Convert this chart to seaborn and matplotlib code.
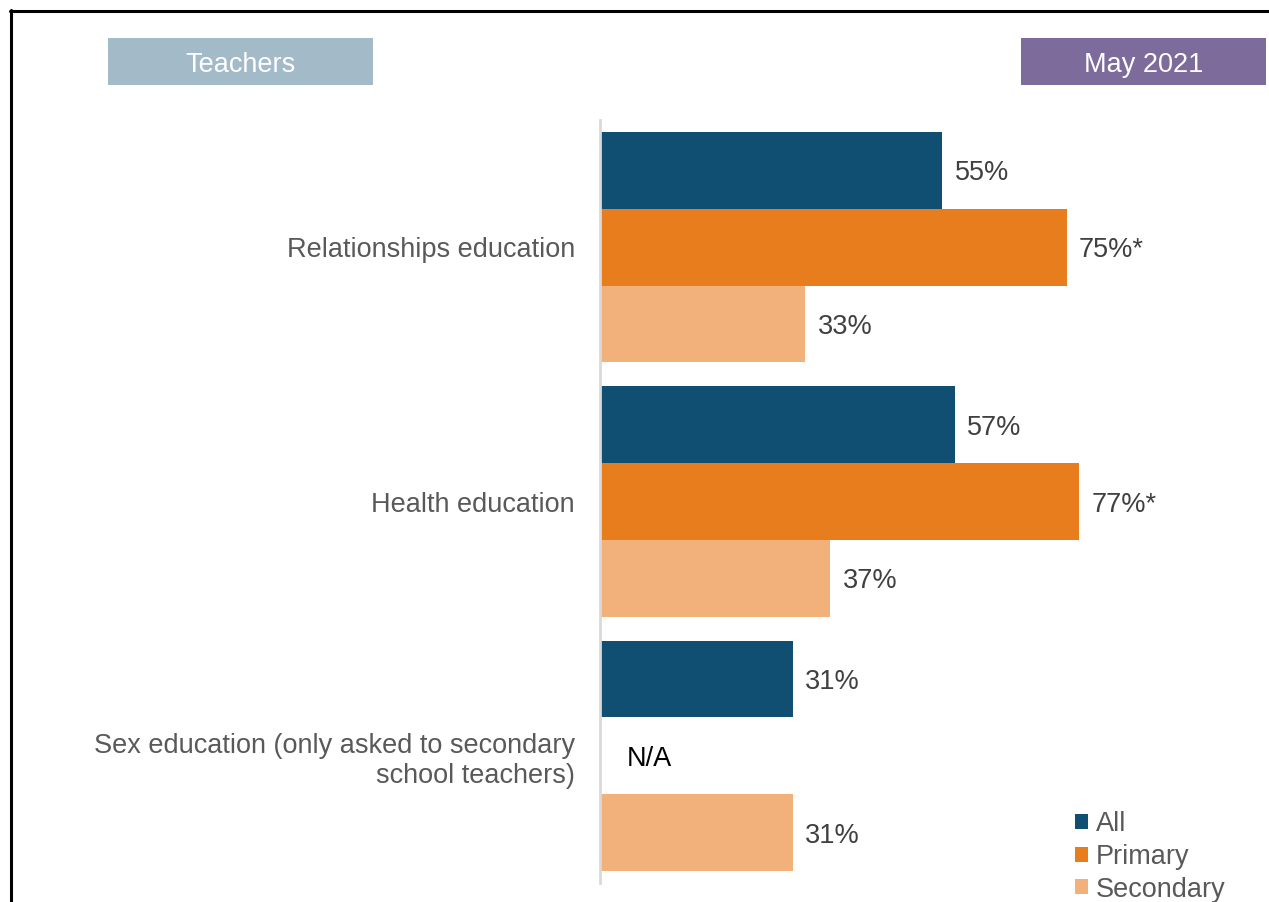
import numpy as np
import pandas as pd
import matplotlib
matplotlib.use("Agg")
import matplotlib.pyplot as plt
from matplotlib.patches import Rectangle
from matplotlib.lines import Line2D
import seaborn as sns

categories = ["Relationships education", "Health education",
              "Sex education (only asked to secondary\nschool teachers)"]
groups = ["All", "Primary", "Secondary"]
all_vals = [55, 57, 31]
primary_vals = [75, 77, np.nan]
secondary_vals = [33, 37, 31]
primary_suffix = ["*", "*", ""]
colors = ["#114F72", "#E87D1E", "#F2B07A"]

sns.set_theme(style="white")
plt.rcParams["font.family"] = ["Liberation Sans", "DejaVu Sans"]

rows = []
for g, vals in zip(groups, [all_vals, primary_vals, secondary_vals]):
    for c, v in zip(categories, vals):
        rows.append({"category": c, "group": g, "value": v})
df = pd.DataFrame(rows)

W, H = 1269, 902
fig = plt.figure(figsize=(W / 100, H / 100), dpi=100)
ax = fig.add_axes([600 / W, (H - 883) / H, 622 / W, (883 - 120) / H])

sns.barplot(data=df, y="category", x="value", hue="group", hue_order=groups,
            order=categories, palette=colors, orient="h", width=0.906,
            gap=0, errorbar=None, saturation=1, ax=ax, legend=True,
            linewidth=0, edgecolor="none")

ax.set_xlim(0, 100)
ax.set_ylim(2.5, -0.5)
ax.set_xlabel("")
ax.set_ylabel("")
ax.set_xticks([])
for s in ["top", "right", "bottom"]:
    ax.spines[s].set_visible(False)
ax.spines["left"].set_color("#D9D9D9")
ax.spines["left"].set_linewidth(2)
ax.tick_params(axis="y", length=0, pad=18, labelsize=19.5, labelcolor="#595959")
for t in ax.get_yticklabels():
    t.set_horizontalalignment("right")
    t.set_multialignment("right")

label_sets = [
    [f"{v:.0f}%" for v in all_vals],
    [f"{v:.0f}%{s}" for v, s in zip(primary_vals, primary_suffix) if not np.isnan(v)],
    [f"{v:.0f}%" for v in secondary_vals],
]
for cont, labs in zip(ax.containers, label_sets):
    anns = ax.bar_label(cont, labels=labs, padding=9, fontsize=19.5, color="#404040")
    for a in anns:
        a.set_verticalalignment("center_baseline")

# N/A for missing primary value
for i, v in enumerate(primary_vals):
    if np.isnan(v):
        ax.text(4.3, i, "N/A", va="center_baseline", ha="left", fontsize=19.5,
                color="#000000")

leg = ax.legend(loc="upper left", bbox_to_anchor=(1075 / W, 1 - 811 / H),
                bbox_transform=fig.transFigure, frameon=False, fontsize=19.5,
                handlelength=0.48, handleheight=0.48, handletextpad=0.3,
                labelspacing=0.25, borderpad=0, borderaxespad=0)
for t in leg.get_texts():
    t.set_color("#595959")

# header boxes
fig.patches.append(Rectangle((108 / W, 1 - 85 / H), (373 - 108) / W, 47 / H,
                             transform=fig.transFigure, facecolor="#A3BAC9",
                             edgecolor="none"))
fig.text((108 + 373) / 2 / W, 1 - 62 / H, "Teachers", ha="center",
         va="center_baseline", fontsize=19.5, color="white")
fig.patches.append(Rectangle((1021 / W, 1 - 85 / H), (1266 - 1021) / W, 47 / H,
                             transform=fig.transFigure, facecolor="#7D6B9B",
                             edgecolor="none"))
fig.text((1021 + 1266) / 2 / W, 1 - 62 / H, "May 2021", ha="center",
         va="center_baseline", fontsize=19.5, color="white")

# outer frame (left and top)
fig.lines.append(Line2D([11 / W, 11 / W], [0, 1 - 10 / H], transform=fig.transFigure,
                        color="black", linewidth=2.2))
fig.lines.append(Line2D([10 / W, 1], [1 - 10.5 / H, 1 - 10.5 / H], transform=fig.transFigure,
                        color="black", linewidth=2.2))

fig.savefig("out.png", dpi=100)
